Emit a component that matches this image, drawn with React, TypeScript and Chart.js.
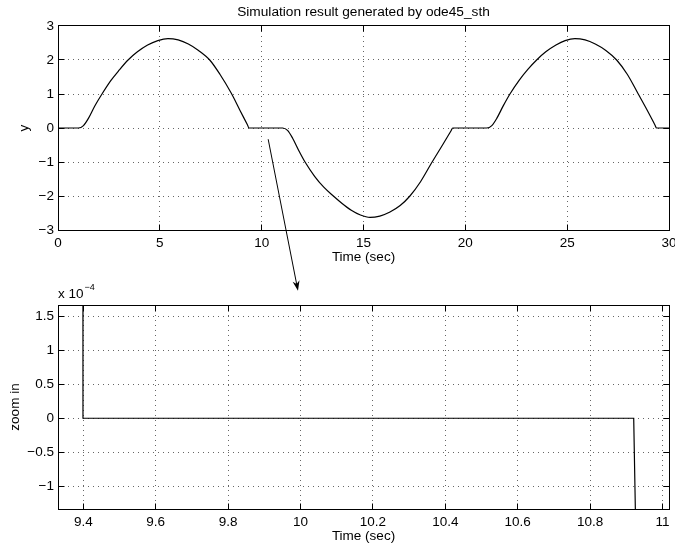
import React, { useEffect, useRef } from "react";
import { Chart, registerables } from "chart.js";

Chart.register(...registerables);

const FONT = "'Liberation Sans', Arial, Helvetica, sans-serif";
Chart.defaults.font.family = FONT;
Chart.defaults.color = "#000";

// ---------- text ----------
const TITLE = "Simulation result generated by ode45_sth";
const X_LABEL = "Time (sec)";
const Y_LABEL_TOP = "y";
const Y_LABEL_ZOOM = "zoom in";
const EXP_BASE = "x 10";
const EXP_POWER = "\u22124";

// ---------- top plot data ----------
const topTime = [
  0, 1.0, 1.25, 1.5, 1.8, 2.16, 2.6, 3.0, 3.44, 3.9, 4.4, 4.9, 5.4, 5.9, 6.4, 6.9, 7.45, 7.95, 8.51, 8.95, 9.3, 9.38,
  11.03, 11.27, 11.52, 11.82, 12.13, 12.6, 13.05, 13.52, 13.95, 14.4, 14.85, 15.32, 15.8, 16.3, 16.8, 17.28, 17.8, 18.34, 18.88, 19.3, 19.38,
  21.05, 21.3, 21.55, 21.86, 22.19, 22.65, 23.08, 23.5, 23.95, 24.45, 24.9, 25.38, 25.88, 26.38, 26.9, 27.43, 27.95, 28.49, 28.95, 29.31, 29.39,
  30,
];
const topY = [
  0, 0, 0.07, 0.29, 0.64, 1.0, 1.4, 1.7, 2.0, 2.24, 2.44, 2.57, 2.63, 2.59, 2.47, 2.28, 2.0, 1.58, 1.02, 0.5, 0.095, 0,
  0, -0.07, -0.3, -0.66, -1.0, -1.42, -1.74, -2.0, -2.22, -2.42, -2.56, -2.63, -2.59, -2.47, -2.28, -2.0, -1.58, -1.03, -0.5, -0.08, 0,
  0, 0.07, 0.29, 0.65, 1.0, 1.41, 1.73, 2.0, 2.24, 2.44, 2.57, 2.63, 2.59, 2.47, 2.28, 2.0, 1.58, 1.0, 0.5, 0.09, 0,
  0,
];
const topXTicks = [0, 5, 10, 15, 20, 25, 30];
const topYTicks = [-3, -2, -1, 0, 1, 2, 3];
const topXRange = [0, 30];
const topYRange = [-3, 3];

// ---------- zoom plot data ----------
const zoomTime = [9.3988, 9.399, 10.9205, 10.928];
const zoomY = [4.0e-4, 0, 0, -2.2e-4];
const zoomXTicks = [9.4, 9.6, 9.8, 10, 10.2, 10.4, 10.6, 10.8, 11];
const zoomYTicks = [-1e-4, -0.5e-4, 0, 0.5e-4, 1e-4, 1.5e-4];
const zoomXRange = [9.33, 11.018];
const zoomYRange = [-1.332e-4, 1.662e-4];
const ZOOM_EXP = 1e-4;

// ---------- arrow annotation (data coords: from top plot to zoom plot) ----------
const arrowFrom = [10.32, -0.33];
const arrowTo = [9.993, 1.87e-4];

const GRID_COLOR = "rgba(0,0,0,0.6)";

const minusFmt = (v: number) => (v < 0 ? "\u2212" + String(Math.abs(v)) : String(v));

const alignPx = (p: number) => Math.round(p - 0.5) + 0.5;

const matlabFrame = {
  id: "matlabFrame",
  afterDraw(chart: any) {
    const { ctx, chartArea: a, scales } = chart;
    ctx.save();
    ctx.strokeStyle = "#000";
    ctx.lineWidth = 1;
    ctx.setLineDash([]);
    const L = alignPx(a.left);
    const R = alignPx(a.right);
    const T = alignPx(a.top);
    const B = alignPx(a.bottom);
    ctx.strokeRect(L, T, R - L, B - T);
    const tl = 6;
    ctx.beginPath();
    for (const t of scales.x.ticks) {
      const px = alignPx(scales.x.getPixelForValue(t.value));
      ctx.moveTo(px, B);
      ctx.lineTo(px, B - tl);
      ctx.moveTo(px, T);
      ctx.lineTo(px, T + tl);
    }
    for (const t of scales.y.ticks) {
      const py = alignPx(scales.y.getPixelForValue(t.value));
      ctx.moveTo(L, py);
      ctx.lineTo(L + tl, py);
      ctx.moveTo(R, py);
      ctx.lineTo(R - tl, py);
    }
    ctx.stroke();
    ctx.restore();
  },
};

const exponentLabel = {
  id: "exponentLabel",
  afterDraw(chart: any) {
    const { ctx, chartArea } = chart;
    ctx.save();
    ctx.fillStyle = "#000";
    ctx.textAlign = "left";
    ctx.textBaseline = "alphabetic";
    ctx.font = `13.5px ${FONT}`;
    ctx.fillText(EXP_BASE, chartArea.left, chartArea.top - 7);
    const w = ctx.measureText(EXP_BASE).width;
    ctx.font = `9px ${FONT}`;
    ctx.fillText(EXP_POWER, chartArea.left + w + 1, chartArea.top - 15);
    ctx.restore();
  },
};

function axisOptions(
  range: number[],
  ticks: number[],
  fmt: (v: number) => string,
  isX: boolean,
  size: number,
  title: string,
  titlePad: any
) {
  return {
    type: "linear",
    min: range[0],
    max: range[1],
    afterBuildTicks: (s: any) => {
      s.ticks = ticks.map((v) => ({ value: v }));
    },
    afterFit: (s: any) => {
      if (isX) s.height = size;
      else s.width = size;
      s.paddingLeft = 0;
      s.paddingRight = 0;
      s.paddingTop = 0;
      s.paddingBottom = 0;
    },
    grid: { color: GRID_COLOR, lineWidth: 1, drawTicks: false },
    border: { display: false, dash: [1, 4] },
    ticks: {
      padding: isX ? 5 : 4,
      autoSkip: false,
      maxRotation: 0,
      minRotation: 0,
      color: "#000",
      font: { size: 13.5 },
      callback: (v: number) => fmt(v),
    },
    title: {
      display: true,
      text: title,
      color: "#000",
      font: { size: 13.5 },
      padding: titlePad,
    },
  };
}

export default function App() {
  const topRef = useRef<HTMLCanvasElement>(null);
  const zoomRef = useRef<HTMLCanvasElement>(null);
  const overlayRef = useRef<HTMLCanvasElement>(null);

  useEffect(() => {
    const topChart = new Chart(topRef.current as HTMLCanvasElement, {
      type: "line",
      data: {
        datasets: [
          {
            data: topTime.map((t, i) => ({ x: t, y: topY[i] })),
            borderColor: "#000",
            borderWidth: 1.2,
            pointRadius: 0,
            fill: false,
            cubicInterpolationMode: "monotone",
          },
        ],
      },
      options: {
        responsive: false,
        animation: false,
        devicePixelRatio: 1,
        events: [],
        layout: { padding: { left: 0, right: 6, top: 0, bottom: 0 } },
        plugins: {
          legend: { display: false },
          tooltip: { enabled: false },
          title: {
            display: true,
            text: TITLE,
            fullSize: false,
            color: "#000",
            font: { size: 13.7, weight: "normal" },
            padding: { top: 4, bottom: 5.56 },
          },
        },
        scales: {
          x: axisOptions(topXRange, topXTicks, minusFmt, true, 40, X_LABEL, { top: 0, bottom: 5 }),
          y: axisOptions(topYRange, topYTicks, minusFmt, false, 58, Y_LABEL_TOP, { top: 16, bottom: 0 }),
        },
      } as any,
      plugins: [matlabFrame],
    } as any);

    const zoomFmt = (v: number) => minusFmt(Math.round((v / ZOOM_EXP) * 10) / 10);
    const xFmt = (v: number) => String(Math.round(v * 10) / 10);

    const zoomChart = new Chart(zoomRef.current as HTMLCanvasElement, {
      type: "line",
      data: {
        datasets: [
          {
            data: zoomTime.map((t, i) => ({ x: t, y: zoomY[i] })),
            borderColor: "#000",
            borderWidth: 1.2,
            pointRadius: 0,
            fill: false,
            tension: 0,
          },
        ],
      },
      options: {
        responsive: false,
        animation: false,
        devicePixelRatio: 1,
        events: [],
        layout: { padding: { left: 0, right: 6, top: 35, bottom: 0 } },
        plugins: {
          legend: { display: false },
          tooltip: { enabled: false },
        },
        scales: {
          x: axisOptions(zoomXRange, zoomXTicks, xFmt, true, 39, X_LABEL, { top: 0, bottom: 4 }),
          y: axisOptions(zoomYRange, zoomYTicks, zoomFmt, false, 58, Y_LABEL_ZOOM, { top: 7, bottom: 0 }),
        },
      } as any,
      plugins: [matlabFrame, exponentLabel],
    } as any);

    // arrow overlay, positioned from both charts' scales
    const ov = overlayRef.current as HTMLCanvasElement;
    const ctx = ov.getContext("2d") as CanvasRenderingContext2D;
    ctx.clearRect(0, 0, ov.width, ov.height);
    const sx = topChart.scales.x.getPixelForValue(arrowFrom[0]);
    const sy = topChart.scales.y.getPixelForValue(arrowFrom[1]);
    const ex = zoomChart.scales.x.getPixelForValue(arrowTo[0]);
    const ey = zoomChart.scales.y.getPixelForValue(arrowTo[1]) + 270;
    const dx = ex - sx;
    const dy = ey - sy;
    const len = Math.hypot(dx, dy);
    const ux = dx / len;
    const uy = dy / len;
    const nx = -uy;
    const ny = ux;
    ctx.strokeStyle = "#000";
    ctx.fillStyle = "#000";
    ctx.lineWidth = 1;
    ctx.beginPath();
    ctx.moveTo(sx, sy);
    ctx.lineTo(ex - ux * 6, ey - uy * 6);
    ctx.stroke();
    const hl = 10;
    const hw = 3.5;
    ctx.beginPath();
    ctx.moveTo(ex, ey);
    ctx.lineTo(ex - ux * hl + nx * hw, ey - uy * hl + ny * hw);
    ctx.lineTo(ex - ux * 7, ey - uy * 7);
    ctx.lineTo(ex - ux * hl - nx * hw, ey - uy * hl - ny * hw);
    ctx.closePath();
    ctx.fill();

    return () => {
      topChart.destroy();
      zoomChart.destroy();
    };
  }, []);

  return (
    <div
      style={{
        position: "fixed",
        left: 0,
        top: 0,
        width: 675,
        height: 548,
        background: "#fff",
        overflow: "hidden",
      }}
    >
      <canvas
        ref={topRef}
        width={675}
        height={270}
        style={{ position: "absolute", left: 0, top: 0, width: 675, height: 270 }}
      />
      <canvas
        ref={zoomRef}
        width={675}
        height={278}
        style={{ position: "absolute", left: 0, top: 270, width: 675, height: 278 }}
      />
      <canvas
        ref={overlayRef}
        width={675}
        height={548}
        style={{ position: "absolute", left: 0, top: 0, width: 675, height: 548, pointerEvents: "none" }}
      />
    </div>
  );
}
